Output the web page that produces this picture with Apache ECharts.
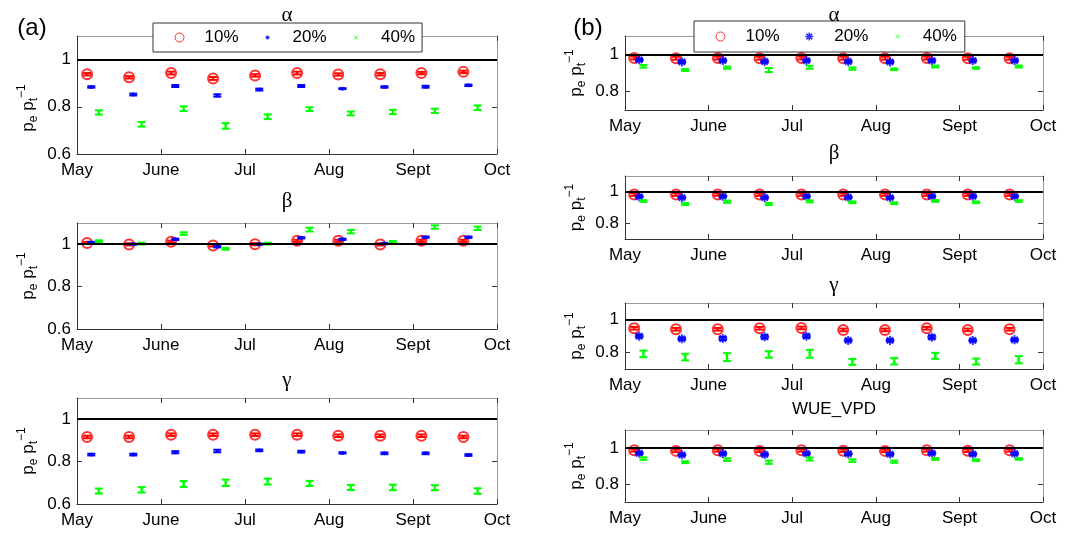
<!DOCTYPE html>
<html>
<head>
<meta charset="utf-8" />
<title>pe pt-1</title>
<script src="https://cdn.jsdelivr.net/npm/echarts@6/dist/echarts.min.js"></script>
<style>
  html, body { margin: 0; padding: 0; background: #fff; }
  #main { width: 1092px; height: 533px; }
</style>
</head>
<body>
<div id="main"></div>
<script type="text/javascript">
// month ticks
var months = ['May', 'June', 'Jul', 'Aug', 'Sept', 'Oct'];
var seriesNames = ['10%', '20%', '40%'];

// sample dates, in months after 1 May
var xRedA   = [0.12, 0.62, 1.12, 1.62, 2.12, 2.62, 3.11, 3.61, 4.10, 4.60];
var xBlueA  = [0.17, 0.67, 1.17, 1.67, 2.17, 2.67, 3.16, 3.66, 4.15, 4.66];
var xGreenA = [0.26, 0.77, 1.27, 1.77, 2.27, 2.77, 3.26, 3.76, 4.26, 4.77];
var xRedB   = [0.11, 0.61, 1.11, 1.61, 2.11, 2.61, 3.11, 3.61, 4.10, 4.60];
var xBlueB  = [0.17, 0.68, 1.17, 1.67, 2.17, 2.67, 3.17, 3.67, 4.16, 4.66];
var xGreenB = [0.22, 0.72, 1.22, 1.72, 2.21, 2.72, 3.22, 3.71, 4.20, 4.71];

// (a) alpha
var aRedA      = [0.938, 0.925, 0.943, 0.920, 0.933, 0.943, 0.937, 0.938, 0.943, 0.948];
var aRedAErr   = [0.005, 0.005, 0.006, 0.006, 0.005, 0.006, 0.005, 0.005, 0.005, 0.005];
var aBlueA     = [0.884, 0.852, 0.888, 0.848, 0.873, 0.888, 0.877, 0.884, 0.885, 0.891];
var aBlueAErr  = [0.003, 0.004, 0.004, 0.005, 0.004, 0.004, 0.002, 0.003, 0.004, 0.003];
var aGreenA    = [0.776, 0.726, 0.792, 0.719, 0.758, 0.790, 0.772, 0.778, 0.783, 0.796];
var aGreenAErr = [0.009, 0.010, 0.010, 0.012, 0.010, 0.008, 0.008, 0.009, 0.009, 0.010];
// (a) beta
var bRedA      = [1.006, 0.999, 1.012, 0.994, 1.000, 1.016, 1.016, 0.999, 1.016, 1.016];
var bRedAErr   = [0.005, 0.005, 0.005, 0.005, 0.005, 0.005, 0.005, 0.005, 0.005, 0.005];
var bBlueA     = [1.008, 1.000, 1.023, 0.988, 1.000, 1.030, 1.023, 1.003, 1.033, 1.033];
var bBlueAErr  = [0.003, 0.003, 0.003, 0.003, 0.003, 0.003, 0.003, 0.003, 0.003, 0.003];
var bGreenA    = [1.014, 1.003, 1.050, 0.978, 1.003, 1.069, 1.059, 1.011, 1.081, 1.075];
var bGreenAErr = [0.004, 0.004, 0.006, 0.004, 0.004, 0.009, 0.008, 0.004, 0.008, 0.008];
// (a) gamma
var gRedA      = [0.916, 0.916, 0.927, 0.927, 0.927, 0.927, 0.922, 0.922, 0.922, 0.916];
var gRedAErr   = [0.006, 0.006, 0.006, 0.006, 0.006, 0.006, 0.006, 0.006, 0.006, 0.006];
var gBlueA     = [0.833, 0.833, 0.844, 0.850, 0.853, 0.847, 0.841, 0.839, 0.839, 0.831];
var gBlueAErr  = [0.004, 0.004, 0.005, 0.006, 0.004, 0.004, 0.003, 0.004, 0.004, 0.004];
var gGreenA    = [0.661, 0.667, 0.694, 0.700, 0.706, 0.697, 0.678, 0.678, 0.677, 0.661];
var gGreenAErr = [0.012, 0.013, 0.014, 0.015, 0.014, 0.012, 0.012, 0.013, 0.012, 0.013];

// (b) alpha
var aRedB      = [0.981, 0.980, 0.981, 0.980, 0.981, 0.980, 0.980, 0.981, 0.980, 0.980];
var aRedBErr   = [0.008, 0.008, 0.008, 0.008, 0.008, 0.008, 0.008, 0.008, 0.008, 0.008];
var aBlueB     = [0.971, 0.960, 0.967, 0.962, 0.967, 0.962, 0.960, 0.967, 0.967, 0.967];
var aBlueBErr  = [0.006, 0.006, 0.006, 0.006, 0.006, 0.006, 0.006, 0.006, 0.006, 0.006];
var aGreenB    = [0.936, 0.916, 0.929, 0.916, 0.931, 0.924, 0.920, 0.935, 0.927, 0.935];
var aGreenBErr = [0.007, 0.005, 0.006, 0.011, 0.008, 0.006, 0.004, 0.005, 0.004, 0.005];
// (b) beta
var bRedB      = [0.982, 0.982, 0.982, 0.982, 0.982, 0.982, 0.982, 0.982, 0.982, 0.982];
var bRedBErr   = [0.008, 0.008, 0.008, 0.008, 0.008, 0.008, 0.008, 0.008, 0.008, 0.008];
var bBlueB     = [0.969, 0.963, 0.971, 0.963, 0.971, 0.965, 0.963, 0.971, 0.971, 0.971];
var bBlueBErr  = [0.006, 0.006, 0.006, 0.006, 0.006, 0.006, 0.006, 0.006, 0.006, 0.006];
var bGreenB    = [0.941, 0.922, 0.937, 0.922, 0.939, 0.933, 0.927, 0.941, 0.933, 0.941];
var bGreenBErr = [0.005, 0.007, 0.007, 0.007, 0.006, 0.005, 0.005, 0.005, 0.005, 0.005];
// (b) gamma
var gRedB      = [0.947, 0.941, 0.941, 0.947, 0.949, 0.937, 0.937, 0.947, 0.937, 0.941];
var gRedBErr   = [0.008, 0.008, 0.008, 0.008, 0.008, 0.008, 0.008, 0.008, 0.008, 0.008];
var gBlueB     = [0.899, 0.883, 0.885, 0.895, 0.899, 0.873, 0.873, 0.893, 0.873, 0.877];
var gBlueBErr  = [0.008, 0.007, 0.009, 0.009, 0.009, 0.006, 0.006, 0.009, 0.006, 0.007];
var gGreenB    = [0.792, 0.772, 0.772, 0.788, 0.792, 0.743, 0.747, 0.780, 0.745, 0.756];
var gGreenBErr = [0.020, 0.020, 0.024, 0.020, 0.024, 0.018, 0.020, 0.018, 0.018, 0.022];
// (b) WUE_VPD
var wRedB      = [0.987, 0.984, 0.987, 0.984, 0.987, 0.985, 0.984, 0.987, 0.985, 0.987];
var wRedBErr   = [0.007, 0.007, 0.007, 0.007, 0.007, 0.007, 0.007, 0.007, 0.007, 0.007];
var wBlueB     = [0.971, 0.962, 0.969, 0.964, 0.969, 0.968, 0.966, 0.971, 0.966, 0.969];
var wBlueBErr  = [0.006, 0.006, 0.006, 0.006, 0.006, 0.006, 0.006, 0.006, 0.006, 0.006];
var wGreenB    = [0.941, 0.921, 0.935, 0.921, 0.939, 0.930, 0.924, 0.939, 0.932, 0.939];
var wGreenBErr = [0.007, 0.005, 0.007, 0.009, 0.008, 0.007, 0.006, 0.005, 0.004, 0.004];

var SANS = 'Liberation Sans, Arial, sans-serif';
var SERIF = 'Liberation Serif, Times New Roman, serif';
var colors = ['#ff0000', '#0000ff', '#00ff00'];

var STAR = 'path://M0,-4.5L0,4.5M-4.5,0L4.5,0M-3.2,-3.2L3.2,3.2M-3.2,3.2L3.2,-3.2';
var XMARK = 'path://M-1,-1L1,1M-1,1L1,-1';

var panels = [
  {rect: [77, 36, 420, 118],  ymin: 0.6, ymax: 1.1, ticks: [0.6, 0.8, 1], xs: [xRedA, xBlueA, xGreenA],
   vals: [aRedA, aBlueA, aGreenA], errs: [aRedAErr, aBlueAErr, aGreenAErr], star: false, namePad: 26},
  {rect: [77, 223, 420, 106], ymin: 0.6, ymax: 1.1, ticks: [0.6, 0.8, 1], xs: [xRedA, xBlueA, xGreenA],
   vals: [bRedA, bBlueA, bGreenA], errs: [bRedAErr, bBlueAErr, bGreenAErr], star: false, namePad: 0},
  {rect: [77, 398, 420, 106], ymin: 0.6, ymax: 1.1, ticks: [0.6, 0.8, 1], xs: [xRedA, xBlueA, xGreenA],
   vals: [gRedA, gBlueA, gGreenA], errs: [gRedAErr, gBlueAErr, gGreenAErr], star: false, namePad: 0},
  {rect: [625, 36, 418, 74],  ymin: 0.7, ymax: 1.1, ticks: [0.8, 1], xs: [xRedB, xBlueB, xGreenB],
   vals: [aRedB, aBlueB, aGreenB], errs: [aRedBErr, aBlueBErr, aGreenBErr], star: true, namePad: 0},
  {rect: [625, 176, 418, 63], ymin: 0.7, ymax: 1.1, ticks: [0.8, 1], xs: [xRedB, xBlueB, xGreenB],
   vals: [bRedB, bBlueB, bGreenB], errs: [bRedBErr, bBlueBErr, bGreenBErr], star: true, namePad: 0},
  {rect: [625, 303, 418, 66], ymin: 0.7, ymax: 1.1, ticks: [0.8, 1], xs: [xRedB, xBlueB, xGreenB],
   vals: [gRedB, gBlueB, gGreenB], errs: [gRedBErr, gBlueBErr, gGreenBErr], star: true, namePad: 0},
  {rect: [625, 430, 418, 72], ymin: 0.7, ymax: 1.1, ticks: [0.8, 1], xs: [xRedB, xBlueB, xGreenB],
   vals: [wRedB, wBlueB, wGreenB], errs: [wRedBErr, wBlueBErr, wGreenBErr], star: true, namePad: 0}
];

function errRender(params, api) {
    var x = api.value(0);
    var top = api.coord([x, api.value(2)]);
    var bot = api.coord([x, api.value(1)]);
    var w = 4;
    var st = {stroke: api.visual('color'), lineWidth: 2};
    return {
        type: 'group',
        children: [
            {type: 'line', shape: {x1: top[0], y1: top[1], x2: bot[0], y2: bot[1]}, style: st},
            {type: 'line', shape: {x1: top[0] - w, y1: top[1], x2: top[0] + w, y2: top[1]}, style: st},
            {type: 'line', shape: {x1: bot[0] - w, y1: bot[1], x2: bot[0] + w, y2: bot[1]}, style: st}
        ]
    };
}

var option = {
    animation: false,
    backgroundColor: '#ffffff',
    grid: [], xAxis: [], yAxis: [], series: []
};

panels.forEach(function (p, i) {
    option.grid.push({
        left: p.rect[0], top: p.rect[1], width: p.rect[2], height: p.rect[3],
        containLabel: false, outerBoundsMode: 'none', show: false
    });
    var tick = {show: true, inside: true, length: 5, lineStyle: {color: '#333', width: 1}};
    option.xAxis.push({
        gridIndex: i, type: 'value', min: 0, max: 5, interval: 1, position: 'bottom',
        axisLine: {show: true, lineStyle: {color: '#333', width: 1}},
        axisTick: tick,
        splitLine: {show: false},
        axisLabel: {
            show: true, margin: 8, color: '#000', fontSize: 17, fontFamily: SANS,
            showMinLabel: true, showMaxLabel: true,
            formatter: function (v) { return months[Math.round(v)]; }
        }
    });
    option.xAxis.push({
        gridIndex: i, type: 'value', min: 0, max: 5, interval: 1, position: 'top',
        axisLine: {show: true, onZero: false, lineStyle: {color: '#999', width: 1}},
        axisTick: tick, axisLabel: {show: false}, splitLine: {show: false}
    });
    option.yAxis.push({
        gridIndex: i, type: 'value', min: p.ymin, max: p.ymax, position: 'left',
        axisLine: {show: true, onZero: false, lineStyle: {color: '#333', width: 1}},
        axisTick: {show: true, inside: true, length: 5, customValues: p.ticks, lineStyle: {color: '#333'}},
        splitLine: {show: false},
        axisLabel: {
            show: true, margin: 6, color: '#000', fontSize: 17, fontFamily: SANS,
            customValues: p.ticks,
            formatter: function (v) { return String(+(+v).toFixed(1)); }
        },
        name: '{b|p}{s|e}{b| p}{s|t}{u|\u22121}',
        nameLocation: 'middle', nameRotate: 90, nameGap: 37,
        nameTextStyle: {
            color: '#000', fontSize: 17, fontFamily: SANS, padding: [0, p.namePad, 0, 0],
            rich: {
                b: {fontSize: 17, fontFamily: SANS, color: '#000', lineHeight: 24, verticalAlign: 'middle'},
                s: {fontSize: 12, fontFamily: SANS, color: '#000', lineHeight: 12, verticalAlign: 'bottom'},
                u: {fontSize: 12, fontFamily: SANS, color: '#000', lineHeight: 12, verticalAlign: 'top'}
            }
        }
    });
    option.yAxis.push({
        gridIndex: i, type: 'value', min: p.ymin, max: p.ymax, position: 'right',
        axisLine: {show: true, onZero: false, lineStyle: {color: '#999', width: 1}},
        axisTick: {show: true, inside: true, length: 5, customValues: p.ticks, lineStyle: {color: '#333'}},
        axisLabel: {show: false}, splitLine: {show: false}
    });

    var xi = i * 2, yi = i * 2;
    // markers
    for (var k = 0; k < 3; k++) {
        var pts = p.vals[k].map(function (v, j) { return [p.xs[k][j], v]; });
        var s = {
            name: seriesNames[k], type: 'scatter', xAxisIndex: xi, yAxisIndex: yi,
            data: pts, silent: true, z: 2
        };
        if (k === 0) {
            s.symbol = 'circle'; s.symbolSize = 10;
            s.itemStyle = {color: 'rgba(0,0,0,0)', borderColor: colors[0], borderWidth: 2};
            s.markLine = {
                silent: true, symbol: ['none', 'none'], label: {show: false},
                lineStyle: {color: '#000', width: 2, type: 'solid'},
                data: [{yAxis: 1}]
            };
        } else if (k === 1) {
            if (p.star) {
                s.symbol = STAR; s.symbolSize = 9;
                s.itemStyle = {color: colors[1], borderColor: colors[1], borderWidth: 2};
            } else {
                s.symbol = 'circle'; s.symbolSize = 4;
                s.itemStyle = {color: colors[1]};
            }
        } else {
            s.symbol = XMARK; s.symbolSize = 4;
            s.itemStyle = {color: colors[2], borderColor: colors[2], borderWidth: 1};
        }
        option.series.push(s);
    }
    // error bars
    for (var m = 0; m < 3; m++) {
        var eb = p.vals[m].map(function (v, j) {
            return [p.xs[m][j], v - p.errs[m][j], v + p.errs[m][j]];
        });
        option.series.push({
            name: seriesNames[m], type: 'custom', xAxisIndex: xi, yAxisIndex: yi,
            renderItem: errRender, encode: {x: 0, y: [1, 2]},
            itemStyle: {color: colors[m]}, data: eb, silent: true, z: 3
        });
    }
});

// legend icons framed to a 40x10 box so the spacing is the same as the figure
var RING = 'path://M-20,-5M20,5M-4.5,0A4.5,4.5,0,1,0,4.5,0A4.5,4.5,0,1,0,-4.5,0Z';
var DOT = 'path://M-20,-5M20,5M-2,0A2,2,0,1,0,2,0A2,2,0,1,0,-2,0Z';
var XICON = 'path://M-20,-5M20,5M-2,-2L2,2M-2,2L2,-2';
var STARICON = 'path://M-20,-5M20,5M0,-4L0,4M-4,0L4,0M-2.9,-2.9L2.9,2.9M-2.9,2.9L2.9,-2.9';

function legendBox(left, top, pad, blueIcon, blueStyle) {
    return {
        left: left, top: top, orient: 'horizontal',
        itemWidth: 40, itemHeight: 10, itemGap: 9, padding: pad,
        backgroundColor: '#fff', borderColor: '#333', borderWidth: 1, borderRadius: 0,
        selectedMode: false, z: 10,
        textStyle: {fontSize: 17, fontFamily: SANS, color: '#000'},
        data: [
            {name: '10%', icon: RING, itemStyle: {color: 'rgba(0,0,0,0)', borderColor: colors[0], borderWidth: 1}},
            {name: '20%', icon: blueIcon, itemStyle: blueStyle},
            {name: '40%', icon: XICON, itemStyle: {color: colors[2], borderColor: colors[2], borderWidth: 1}}
        ]
    };
}
option.legend = [
    legendBox(153, 23, [6, 7, 6, 6], DOT, {color: colors[1], borderColor: colors[1], borderWidth: 0}),
    legendBox(694, 21, [7, 8, 7, 6], STARICON, {color: colors[1], borderColor: colors[1], borderWidth: 1.5})
];

function label(txt, x, y, size, family) {
    return {
        type: 'text', x: x, y: y, z: 20, silent: true,
        style: {
            text: txt, fontSize: size, fontFamily: family, fill: '#000',
            align: 'center', verticalAlign: 'middle',
            textAlign: 'center', textVerticalAlign: 'middle'
        }
    };
}
option.graphic = [
    label('(a)', 32, 28, 24, SANS),
    label('(b)', 588, 28, 24, SANS),
    label('\u03b1', 287, 15, 21, SERIF),
    label('\u03b2', 287, 201, 21, SERIF),
    label('\u03b3', 287, 380, 21, SERIF),
    label('\u03b1', 834, 15, 21, SERIF),
    label('\u03b2', 834, 153, 21, SERIF),
    label('\u03b3', 834, 285, 21, SERIF),
    label('WUE_VPD', 834, 409, 17, SANS)
];

var myChart = echarts.init(document.getElementById('main'), null, {renderer: 'canvas'});
myChart.setOption(option);
</script>
</body>
</html>
